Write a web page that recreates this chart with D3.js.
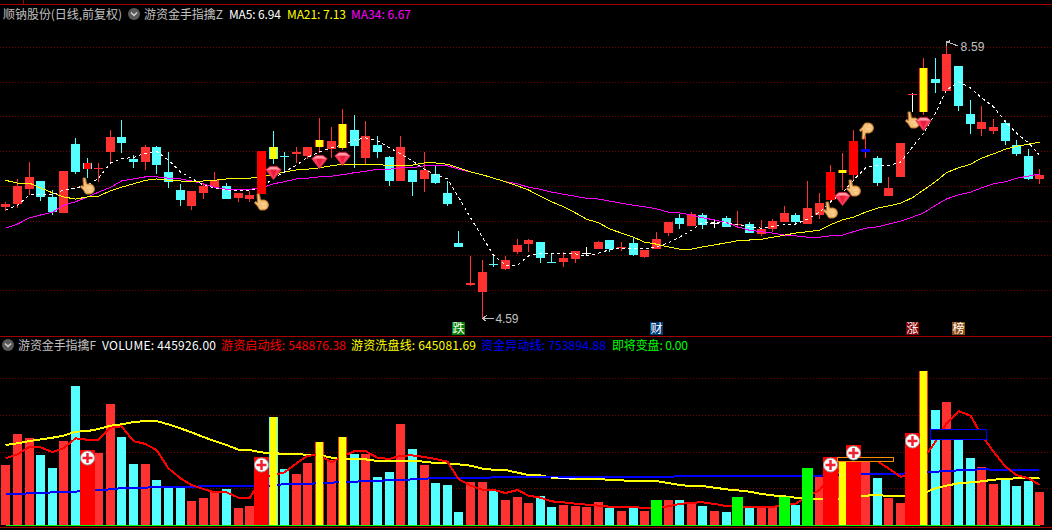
<!DOCTYPE html>
<html><head><meta charset="utf-8">
<script src="https://cdn.jsdelivr.net/npm/d3@7/dist/d3.min.js"></script>
<style>
html,body{margin:0;padding:0;background:#000;overflow:hidden}
svg{display:block}
text{font-family:"Noto Sans CJK SC","Liberation Sans",sans-serif;font-size:12px;white-space:pre}
</style></head><body><svg id="c" width="1052" height="530"></svg>
<script>
// ---------- price series ----------
const open  = [6.20,6.24,6.45,6.57,6.34,6.11,7.10,6.83,6.74,6.99,7.20,6.89,6.84,7.06,6.70,6.44,6.21,6.40,6.48,6.50,6.33,6.31,6.38,7.06,6.93,6.96,6.93,7.06,7.03,7.04,
7.30,6.90,7.09,6.91,6.57,6.73,6.60,6.67,6.40,5.68,5.07,4.97,5.37,5.30,5.55,5.66,5.69,5.40,5.40,5.45,5.54,5.59,5.72,5.61,5.68,5.48,5.59,5.82,6.04,5.92,
6.08,5.96,6.04,5.94,5.95,5.81,5.88,5.98,6.08,5.95,6.08,6.30,6.69,6.66,6.99,6.90,6.35,6.63,7.83,7.56,8.04,7.87,8.23,7.53,7.32,7.29,7.40,7.09,6.93,6.60];
const close = [6.24,6.50,6.63,6.34,6.12,6.71,6.70,6.74,6.76,7.20,7.12,6.84,7.06,6.80,6.56,6.30,6.43,6.50,6.58,6.31,6.40,6.37,7.00,6.89,6.92,6.99,7.06,7.16,7.15,7.39,
7.07,7.22,6.99,6.57,7.06,6.55,6.73,6.54,6.24,5.62,5.10,5.26,5.36,5.43,5.65,5.72,5.46,5.39,5.46,5.56,5.54,5.69,5.59,5.62,5.50,5.58,5.73,5.98,5.95,6.09,
5.94,5.96,5.91,5.95,5.82,5.88,5.99,6.11,5.98,6.18,6.25,6.70,6.73,7.15,7.03,6.54,6.47,7.12,7.83,8.20,7.98,8.40,7.65,7.39,7.42,7.35,7.15,6.96,6.60,6.66];
const high  = [6.27,6.60,6.84,6.57,6.44,6.71,7.19,6.90,6.83,7.30,7.45,6.94,7.09,7.07,6.99,6.53,6.43,6.53,6.70,6.54,6.40,6.43,7.00,7.29,6.99,7.06,7.06,7.48,7.35,7.61,
7.52,7.43,7.22,6.93,7.22,6.73,6.99,6.80,6.57,5.85,5.49,5.43,5.52,5.49,5.73,5.73,5.69,5.52,5.55,5.56,5.62,5.71,5.72,5.69,5.75,5.58,5.84,5.98,6.09,6.12,
6.11,6.01,6.07,6.14,5.98,6.01,6.02,6.21,6.11,6.57,6.40,6.80,6.97,7.30,7.22,6.93,6.63,7.12,7.84,8.34,8.34,8.59,8.23,7.74,7.65,7.46,7.45,7.16,7.03,6.74];
const low   = [6.14,6.18,6.37,6.28,6.08,6.11,6.67,6.61,6.56,6.84,6.97,6.76,6.73,6.67,6.47,6.21,6.15,6.31,6.48,6.31,6.27,6.27,6.38,6.81,6.70,6.83,6.89,6.97,6.90,7.02,
6.76,6.81,6.90,6.50,6.57,6.35,6.41,6.53,6.21,5.62,5.06,4.59,5.33,5.29,5.52,5.55,5.39,5.39,5.33,5.39,5.49,5.59,5.55,5.56,5.49,5.46,5.59,5.78,5.88,5.92,
5.88,5.89,5.91,5.89,5.82,5.78,5.84,5.98,5.97,5.95,6.02,6.27,6.44,6.58,6.90,6.50,6.35,6.63,7.56,7.52,7.84,7.87,7.58,7.25,7.22,7.25,7.09,6.93,6.58,6.53];
const ma5  = [6.15,6.22,6.37,6.37,6.37,6.44,6.47,6.51,6.61,6.83,6.89,6.91,6.97,7.00,6.87,6.70,6.61,6.51,6.47,6.44,6.43,6.43,6.48,6.61,6.70,6.80,6.91,6.99,7.05,7.09,
7.16,7.19,7.15,7.05,6.96,6.86,6.74,6.66,6.60,6.34,6.04,5.76,5.50,5.36,5.36,5.49,5.53,5.53,5.53,5.52,5.49,5.53,5.58,5.60,5.60,5.59,5.62,5.68,5.76,5.86,
5.97,5.97,5.97,5.94,5.91,5.89,5.91,5.94,5.95,6.02,6.12,6.27,6.40,6.58,6.76,6.80,6.79,6.84,7.06,7.26,7.55,7.88,8.00,7.91,7.77,7.64,7.42,7.26,7.12,6.94];
const ma21 = [6.58,6.54,6.54,6.47,6.40,6.34,6.31,6.34,6.35,6.43,6.48,6.53,6.58,6.60,6.58,6.57,6.56,6.57,6.58,6.60,6.61,6.61,6.63,6.66,6.70,6.73,6.74,6.76,6.79,6.81,
6.81,6.81,6.81,6.79,6.79,6.80,6.83,6.83,6.81,6.76,6.70,6.66,6.61,6.56,6.50,6.44,6.35,6.27,6.20,6.11,6.02,5.97,5.88,5.82,5.76,5.69,5.66,5.62,5.59,5.59,
5.62,5.65,5.68,5.71,5.72,5.73,5.76,5.79,5.82,5.84,5.86,5.94,6.01,6.05,6.12,6.18,6.21,6.25,6.33,6.44,6.56,6.69,6.76,6.81,6.90,6.96,7.03,7.07,7.10,7.13];
const ma34 = [5.89,5.95,6.04,6.08,6.12,6.22,6.27,6.34,6.41,6.48,6.57,6.60,6.63,6.63,6.61,6.60,6.57,6.53,6.48,6.45,6.45,6.45,6.47,6.53,6.56,6.60,6.61,6.63,6.64,6.66,
6.69,6.71,6.74,6.74,6.76,6.76,6.79,6.79,6.79,6.74,6.70,6.66,6.61,6.56,6.53,6.48,6.45,6.41,6.38,6.35,6.32,6.31,6.28,6.25,6.22,6.20,6.17,6.12,6.11,6.08,
6.04,6.01,5.97,5.91,5.86,5.84,5.82,5.79,5.78,5.76,5.76,5.78,5.79,5.84,5.89,5.91,5.95,5.99,6.05,6.11,6.22,6.31,6.37,6.41,6.47,6.53,6.56,6.61,6.64,6.67];
// ---------- candle highlights (indices) ----------
const brightRedCandles = [7,22,71,73];
const yellowCandles    = [23,27,29,72,79];
const blueCandles      = [74];
const flatRedCandles   = [78];
const gemCandles       = [23,27,29,72,79];
const handCandles      = [7,22,71,73,78];
const upHandCandles    = [74];
// ---------- volume series (thousands) ----------
const volume = [816,1238,1183,952,775,1142,1890,1020,979,1646,1197,830,830,612,517,517,326,367,462,490,231,258,925,1469,762,694,843,1129,884,1197,
966,966,653,721,1374,1034,816,571,544,177,585,585,462,340,381,299,394,245,272,258,245,313,231,190,231,190,340,340,340,313,
258,190,177,381,231,231,245,381,272,775,653,925,870,1088,884,639,367,299,1251,2094,1564,1673,1224,911,789,558,639,530,598,445.926];
const startLine = [907,961,1065,1056,993,1043,1179,1160,1160,1324,1342,1142,1102,1020,771,635,544,490,444,444,372,363,635,680,716,839,943,952,852,929,
1006,1006,916,898,943,947,925,898,861,626,535,480,480,435,476,399,372,322,308,290,277,263,249,249,240,236,236,254,286,304,
308,286,258,258,245,245,245,281,290,385,476,635,793,861,884,870,771,657,680,907,1133,1383,1550,1487,1224,997,793,680,635,548.876];
const washLine = [1088,1111,1142,1165,1188,1215,1269,1278,1306,1351,1369,1401,1414,1414,1369,1315,1260,1197,1142,1088,1024,1020,988,975,970,970,952,952,916,893,
893,893,870,870,870,875,861,843,839,825,807,766,752,748,712,680,675,644,635,630,630,630,612,607,598,598,598,571,544,530,
530,508,485,471,453,422,403,390,372,358,354,354,363,372,399,408,394,394,394,431,499,535,567,580,594,617,626,635,635,645.082];
const moveLine = [422,422,431,435,444,453,453,471,476,485,503,508,508,517,517,517,517,530,530,530,530,530,530,535,558,558,562,567,576,585,
589,598,598,612,612,621,630,639,639,639,639,639,648,648,648,648,653,653,653,653,653,653,653,653,653,653,653,653,666,666,
671,671,671,671,671,671,671,671,671,671,671,680,689,694,698,698,698,698,707,721,725,734,743,752,757,754,754,754,754,753.895];
const turnLine = new Array(90).fill(0);
const signalBlocks = [7,22,71,73,78];
const yellowBars   = [23,27,29,72,79];
const greenBars    = [56,63,67,69];
const priceGrid  = [5,5.5,6,6.5,7,7.5,8,8.5];
const volumeGrid = [500,1000,1500,2000];
const boxes = [{from:72,to:76,hi:925,lo:870,color:"#ff8c00"},{from:80,to:84,hi:1306,lo:1174,color:"#0000ff"}];
const whiteStretch = [47,48,49];
const tagLabels = [{i:39,t:"跌",c:"#008000"},{i:56,t:"财",c:"#003c78"},{i:78,t:"涨",c:"#800000"},{i:82,t:"榜",c:"#8b4a10"}];
const head1 = [
 {t:"顺钠股份(日线,前复权)",x:3,w:119,c:"#c0c0c0"},{t:"游资金手指擒Z",x:144,w:79,c:"#c0c0c0"},
 {t:"MA5: 6.94",x:229,w:52,c:"#ffffff"},{t:"MA21: 7.13",x:287,w:59,c:"#ffff00"},{t:"MA34: 6.67",x:351,w:60,c:"#ff00ff"}];
const head2 = [
 {t:"游资金手指擒F",x:18,w:78,c:"#c0c0c0"},{t:"VOLUME: 445926.00",x:102,w:114,c:"#ffffff"},
 {t:"游资启动线: 548876.38",x:221,w:125,c:"#ff0000"},{t:"游资洗盘线: 645081.69",x:351,w:125,c:"#ffff00"},
 {t:"资金异动线: 753894.88",x:481,w:125,c:"#0000ff"},{t:"即将变盘: 0.00",x:612,w:76,c:"#00ff00"}];

const RED="#ff3232",CYAN="#54ffff",BRIGHT="#ff0000",YELLOW="#ffff00",GREEN="#00ff00",DIV="#a00000",GRAY="#c0c0c0";
const idx = d3.range(open.length);
const svg = d3.select("#c");
const x = d3.scaleLinear().domain([0,89]).range([5.3,1039.4]);
const y = d3.scaleLinear().domain([5,8.5]).range([290,47]);
const yv = d3.scaleLinear().domain([0,2000]).range([525,378]);
const cx = i => Math.round(x(i))+0.5;
const ry = v => Math.round(y(v));
const ryv = v => Math.round(yv(v));

// background and frame
svg.append("rect").attr("width",1052).attr("height",530).attr("fill","#000");
const crisp = svg.append("g").attr("shape-rendering","crispEdges");
[[0,4.5,1052,4.5],[0,336.5,1052,336.5],[0,527.5,1052,527.5],[23.5,0,23.5,4]].forEach(l=>
  crisp.append("line").attr("x1",l[0]).attr("y1",l[1]).attr("x2",l[2]).attr("y2",l[3]).attr("stroke",DIV));

// grids through axes
function grid(scale,vals){
  const g = crisp.append("g").call(d3.axisLeft(scale).tickValues(vals).tickSize(-1052).tickFormat(""));
  g.select(".domain").remove();
  g.selectAll("line").attr("stroke","#780000").attr("stroke-dasharray","1,2");
}
grid(y,priceGrid); grid(yv,volumeGrid);

// candles
const flat = i => open[i]===close[i];
const baseColor = i => flat(i) ? "#fff" : (close[i]>open[i]?RED:CYAN);
const cg = crisp.append("g");
cg.selectAll("rect.w").data(idx).join("rect").attr("class","w")
  .attr("x",i=>cx(i)-0.5).attr("width",1)
  .attr("y",i=>ry(high[i])).attr("height",i=>Math.max(1,ry(low[i])-ry(high[i])))
  .attr("fill",baseColor);
const bodyTop = i=>ry(Math.max(open[i],close[i]));
const bodyH = i=>Math.max(1,ry(Math.min(open[i],close[i]))-bodyTop(i));
cg.selectAll("rect.b").data(idx).join("rect").attr("class","b")
  .attr("x",i=>cx(i)-4.5).attr("width",9).attr("y",bodyTop).attr("height",bodyH)
  .attr("fill",i=>flatRedCandles.includes(i)?RED:baseColor(i));

// moving averages
const line = (s,ys)=>d3.line().x(i=>cx(i)).y(i=>ys(s[i]))(idx);
crisp.append("path").attr("d",line(ma34,y)).attr("fill","none").attr("stroke","#ff00ff");
crisp.append("path").attr("d",line(ma21,y)).attr("fill","none").attr("stroke",YELLOW);
crisp.append("path").attr("d",line(ma5,y)).attr("fill","none").attr("stroke","#fff").attr("stroke-dasharray","3,3");

// highlighted candles above the lines
const over = (list,color,w)=>crisp.append("g").selectAll("rect").data(list).join("rect")
  .attr("x",i=>cx(i)-w/2).attr("width",w).attr("y",bodyTop).attr("height",bodyH).attr("fill",color);
over(brightRedCandles.filter(i=>i===7),BRIGHT,7);
over(brightRedCandles.filter(i=>i!==7),BRIGHT,9);
over(yellowCandles,YELLOW,7);
over(blueCandles,"#0000ff",9);

// glyph markers
function hand(g){
  g.append("path").attr("d","M-4.5,-8 L-2,-8 L-1,-2 L3,-2 Q7,-1 7,3 Q7,7 3,8 L-1,8 Q-3,7 -4,4 L-7,1 L-6,-0.5 L-4,0.5 Z")
   .attr("fill","#f6c078").attr("stroke","#b9772c").attr("stroke-width",1);
  g.append("path").attr("d","M0,2 L4,2 M1,5 L4,5").attr("stroke","#fbe0b0").attr("fill","none");
}
handCandles.forEach(i=>hand(svg.append("g").attr("transform",`translate(${cx(i)},${ry(low[i])+8})`)));
upHandCandles.forEach(i=>hand(svg.append("g").attr("transform",`translate(${cx(i)+1},${ry(high[i])-5}) scale(1,-1)`)));
gemCandles.forEach(i=>{
  const g = svg.append("g").attr("transform",`translate(${cx(i)},${ry(low[i])+9}) scale(1.1)`);
  g.append("path").attr("d","M-7,-3 L-3,-6 L3,-6 L7,-3 L0,6 Z").attr("fill","#ff3a58").attr("stroke","#d8304c").attr("stroke-width",.8);
  g.append("path").attr("d","M-6,-3 L-3,-5.5 L3,-5.5 L6,-3 Z").attr("fill","#ff9aa6");
  g.append("path").attr("d","M-3,-3 L0,4 L3,-3 Z").attr("fill","#e81e3e");
});

// extreme labels
const extremes = [{i:81,v:8.59,up:true,t:"8.59"},{i:41,v:4.59,up:false,t:"4.59"}];
extremes.forEach(e=>{
  const px=cx(e.i),py=y(e.v);
  const g = svg.append("g");
  if(e.up){
    g.append("path").attr("d",`M${px},${py+1} L${px+11},${py+5} M${px},${py+1} L${px+4},${py} M${px},${py+1} L${px},${py+5}`)
     .attr("stroke",GRAY).attr("fill","none").attr("shape-rendering","crispEdges");
    g.append("text").attr("x",px+14).attr("y",py+10).attr("fill",GRAY).attr("textLength",24).style("font-family","Liberation Sans").text(e.t);
  } else {
    g.append("path").attr("d",`M${px},${py} L${px+11},${py} M${px},${py} L${px+4},${py-3} M${px},${py} L${px+4},${py+3}`)
     .attr("stroke",GRAY).attr("fill","none").attr("shape-rendering","crispEdges");
    g.append("text").attr("x",px+13).attr("y",py+5).attr("fill",GRAY).attr("textLength",23).style("font-family","Liberation Sans").text(e.t);
  }
});

// news tags
tagLabels.forEach(d=>{
  svg.append("rect").attr("x",cx(d.i)-6.5).attr("y",322).attr("width",13).attr("height",13).attr("fill",d.c).attr("shape-rendering","crispEdges");
  svg.append("text").attr("x",cx(d.i)).attr("y",333).attr("text-anchor","middle").attr("fill","#fff").text(d.t);
});

// volume bars
const vc = crisp.append("g");
vc.selectAll("rect").data(idx.filter(i=>!greenBars.includes(i))).join("rect")
  .attr("x",i=>cx(i)-4.5).attr("width",9).attr("y",i=>ryv(volume[i])).attr("height",i=>525-ryv(volume[i]))
  .attr("fill",i=>close[i]>=open[i]?RED:CYAN);

// indicator lines
const lv = crisp.append("g").attr("fill","none").attr("stroke-width",2);
lv.append("path").attr("d",line(washLine,yv)).attr("stroke",YELLOW);
lv.append("path").attr("d",line(moveLine,yv)).attr("stroke","#0000ff");
lv.append("path").attr("d",d3.line().x(i=>cx(i)).y(i=>yv(washLine[i]))(whiteStretch)).attr("stroke","#fff").attr("stroke-width",1);
lv.append("path").attr("d",line(startLine,yv)).attr("stroke",BRIGHT);

// signal bars over the lines
const sv = crisp.append("g");
sv.selectAll("rect.s").data(signalBlocks).join("rect").attr("class","s")
  .attr("x",i=>cx(i)-7.5).attr("width",15).attr("y",i=>ryv(volume[i])).attr("height",i=>525-ryv(volume[i])).attr("fill",BRIGHT);
sv.selectAll("rect.g").data(greenBars).join("rect").attr("class","g")
  .attr("x",i=>cx(i)-5.5).attr("width",11).attr("y",i=>ryv(volume[i])).attr("height",i=>525-ryv(volume[i])).attr("fill",GREEN);
sv.selectAll("rect.y").data(yellowBars).join("rect").attr("class","y")
  .attr("x",i=>cx(i)-3.5).attr("width",7).attr("y",i=>ryv(volume[i])).attr("height",i=>525-ryv(volume[i])).attr("fill",YELLOW);

// boxes
boxes.forEach(b=>{
  crisp.append("rect").attr("x",cx(b.from)-5).attr("y",ryv(b.hi)+.5)
   .attr("width",cx(b.to)-cx(b.from)+10).attr("height",ryv(b.lo)-ryv(b.hi))
   .attr("fill","#000").attr("stroke",b.color);
});

// zero line
crisp.append("path").attr("d",d3.line().x(i=>cx(i)).y(i=>yv(turnLine[i])+0.5)(idx)).attr("stroke",GREEN).attr("fill","none");

// plus icons
signalBlocks.forEach(i=>{
  const g = svg.append("g").attr("transform",`translate(${cx(i)},${ryv(volume[i])+8})`);
  g.append("circle").attr("r",7).attr("fill","#fff").attr("stroke","#999").attr("stroke-width",1);
  g.append("path").attr("d","M-5,0 H5 M0,-5 V5").attr("stroke","#f02030").attr("stroke-width",2.5).attr("fill","none");
});

// headers
function heads(list,by){
  svg.append("g").selectAll("text").data(list).join("text")
   .attr("x",d=>d.x).attr("y",by).attr("fill",d=>d.c)
   .attr("textLength",d=>d.w).attr("lengthAdjust","spacing").text(d=>d.t);
}
heads(head1,18.5); heads(head2,350);
[[134,14],[8,345]].forEach(p=>{
  const g = svg.append("g").attr("transform",`translate(${p[0]},${p[1]})`);
  g.append("circle").attr("r",6).attr("fill","#5a5a5a");
  g.append("path").attr("d","M-3,-1.5 L0,1.5 L3,-1.5").attr("stroke","#d0d0d0").attr("stroke-width",1.5).attr("fill","none");
});
</script></body></html>
